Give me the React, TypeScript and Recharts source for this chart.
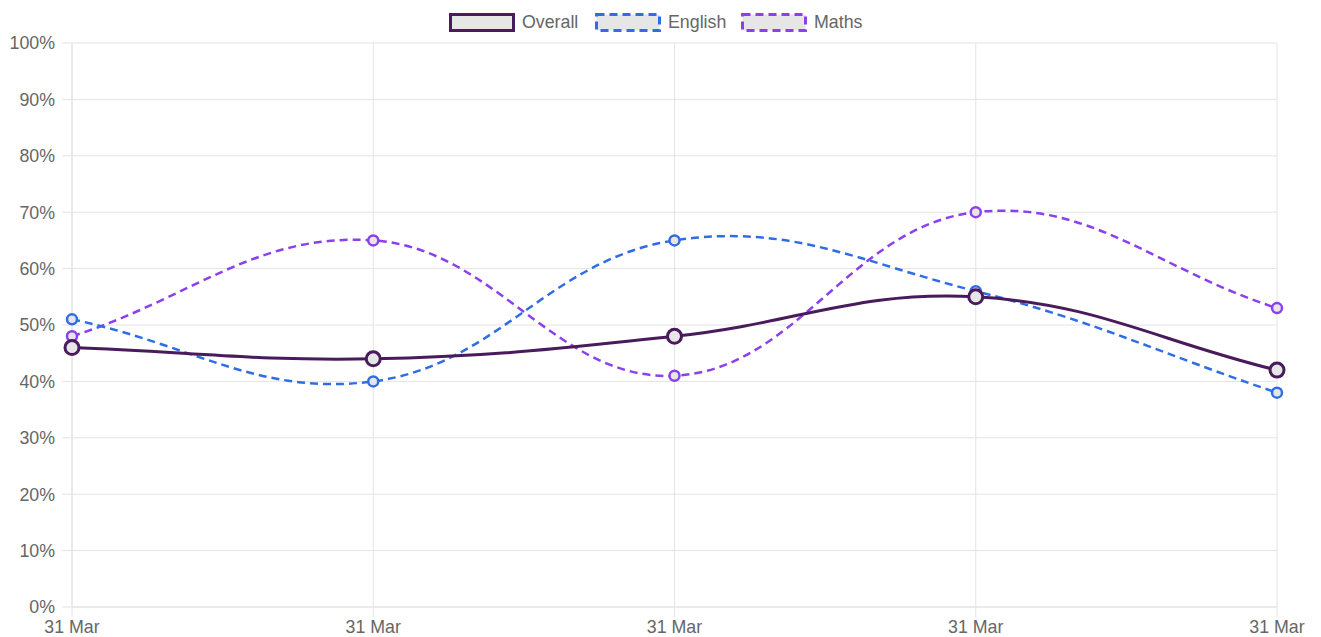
import React from 'react';
import { LineChart, Line, XAxis, YAxis, CartesianGrid } from 'recharts';

const labels = ['31 Mar', '31 Mar', '31 Mar', '31 Mar', '31 Mar'];
const overall = [46, 44, 48, 55, 42];
const english = [51, 40, 65, 56, 38];
const maths = [48, 65, 41, 70, 53];
const yTicks = [0, 10, 20, 30, 40, 50, 60, 70, 80, 90, 100];

const seriesInfo = [
  { key: 'overall', name: 'Overall', color: '#4a1b5c', dashed: false, left: 449 },
  { key: 'english', name: 'English', color: '#2f6de6', dashed: true, left: 595 },
  { key: 'maths', name: 'Maths', color: '#8a40ef', dashed: true, left: 741 },
];

const data = labels.map((label, i) => ({
  label,
  overall: overall[i],
  english: english[i],
  maths: maths[i],
}));

const FONT = '"Liberation Sans", Arial, Helvetica, sans-serif';
const TEXT = '#666666';
const GRID = '#e4e4e4';
const POINT_FILL = '#e6e6e6';
const FS = 17.8;

// Chart.js style spline (tension 0.4)
function chartJsCurve(tension: number) {
  return (context: any) => {
    let pts: [number, number][] = [];
    return {
      areaStart() {},
      areaEnd() {},
      lineStart() {
        pts = [];
      },
      lineEnd() {
        const n = pts.length;
        if (n === 0) return;
        context.moveTo(pts[0][0], pts[0][1]);
        if (n === 1) return;
        const cps = pts.map((p, i) => {
          const prev = pts[i - 1] || p;
          const next = pts[i + 1] || p;
          const d01 = Math.hypot(p[0] - prev[0], p[1] - prev[1]);
          const d12 = Math.hypot(next[0] - p[0], next[1] - p[1]);
          let s01 = d01 / (d01 + d12);
          let s12 = d12 / (d01 + d12);
          if (isNaN(s01)) s01 = 0;
          if (isNaN(s12)) s12 = 0;
          const fa = tension * s01;
          const fb = tension * s12;
          return {
            prev: [p[0] - fa * (next[0] - prev[0]), p[1] - fa * (next[1] - prev[1])],
            next: [p[0] + fb * (next[0] - prev[0]), p[1] + fb * (next[1] - prev[1])],
          };
        });
        for (let i = 1; i < n; i++) {
          context.bezierCurveTo(
            cps[i - 1].next[0],
            cps[i - 1].next[1],
            cps[i].prev[0],
            cps[i].prev[1],
            pts[i][0],
            pts[i][1]
          );
        }
      },
      point(x: number, y: number) {
        pts.push([+x, +y]);
      },
    };
  };
}

const curve = chartJsCurve(0.4);

export default function App() {
  const order = [seriesInfo[2], seriesInfo[1], seriesInfo[0]];
  return (
    <div style={{ position: 'absolute', left: 0, top: 0, width: 1321, height: 637, background: '#fff', fontFamily: FONT }}>
      <LineChart width={1321} height={637} data={data} margin={{ top: 43, right: 44, bottom: 0, left: 0 }}>
        <CartesianGrid stroke={GRID} strokeWidth={1} />
        <XAxis
          dataKey="label"
          height={30}
          axisLine={{ stroke: GRID }}
          tickLine={{ stroke: GRID }}
          tickSize={10}
          tickMargin={3}
          interval={0}
          tick={{ fill: TEXT, fontSize: FS, fontFamily: FONT }}
        />
        <YAxis
          width={72}
          domain={[0, 100]}
          ticks={yTicks}
          interval={0}
          tickFormatter={(v: number) => `${v}%`}
          axisLine={{ stroke: GRID }}
          tickLine={{ stroke: GRID }}
          tickSize={10}
          tickMargin={7}
          tick={{ fill: TEXT, fontSize: FS, fontFamily: FONT }}
        />
        {order.map((s) => (
          <Line
            key={s.key}
            dataKey={s.key}
            name={s.name}
            type={curve as any}
            stroke={s.color}
            strokeWidth={s.dashed ? 2.5 : 3}
            strokeDasharray={s.dashed ? '8 5' : undefined}
            dot={{
              r: s.dashed ? 5 : 7,
              fill: POINT_FILL,
              stroke: s.color,
              strokeWidth: s.dashed ? 2.5 : 3,
              strokeDasharray: '0',
            }}
            activeDot={false}
            isAnimationActive={false}
          />
        ))}
      </LineChart>
      {seriesInfo.map((s) => (
        <div key={s.key} style={{ position: 'absolute', left: s.left, top: 13, height: 19, display: 'flex', alignItems: 'center' }}>
          <svg width={66} height={19} style={{ display: 'block' }}>
            <rect
              x={1.5}
              y={1.5}
              width={63}
              height={16}
              fill={POINT_FILL}
              stroke={s.color}
              strokeWidth={3}
              strokeDasharray={s.dashed ? '8 5' : undefined}
            />
          </svg>
          <span style={{ marginLeft: 7, fontSize: FS, color: TEXT, fontFamily: FONT, whiteSpace: 'nowrap', lineHeight: '19px' }}>
            {s.name}
          </span>
        </div>
      ))}
    </div>
  );
}
